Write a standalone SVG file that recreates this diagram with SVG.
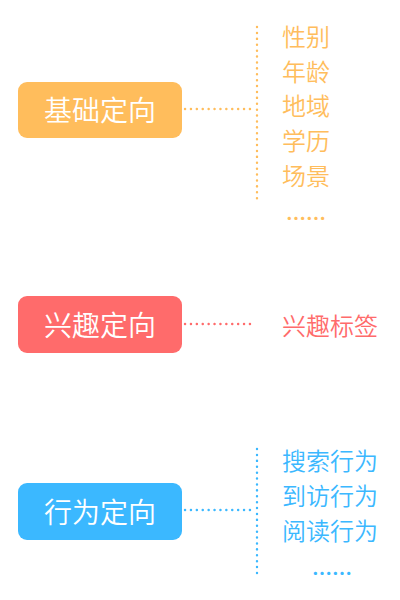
<svg xmlns="http://www.w3.org/2000/svg" width="400" height="600" viewBox="0 0 400 600">
<style>
.box-label{font-family:"Noto Sans CJK SC","Noto Sans",sans-serif;font-size:28px;font-weight:350;fill:#ffffff;text-anchor:middle;dominant-baseline:central}
.item{font-family:"Noto Sans CJK SC","Noto Sans",sans-serif;font-size:24px;font-weight:350;dominant-baseline:central}
.dots{font-family:"Noto Sans CJK SC","Noto Sans",sans-serif;font-size:20px;font-weight:700;text-anchor:middle}
.conn{fill:none;stroke-width:2.4;stroke-linecap:round;stroke-dasharray:0.1 5.8}
</style>
<rect width="400" height="600" fill="#ffffff"/>
<g id="connectors">
<line class="conn" x1="185" y1="109" x2="251" y2="109" stroke="#FFBD5C"/>
<line class="conn" x1="257" y1="27" x2="257" y2="202" stroke="#FFBD5C"/>
<line class="conn" x1="185" y1="324" x2="252" y2="324" stroke="#FF6B6B"/>
<line class="conn" x1="185" y1="510" x2="252" y2="510" stroke="#3BB8FF"/>
<line class="conn" x1="257" y1="449" x2="257" y2="577" stroke="#3BB8FF"/>
</g>
<g id="node-basic">
<rect x="18" y="82" width="164" height="56" rx="9" fill="#FFBD5C"/>
<text class="box-label" x="100" y="109">基础定向</text>
</g>
<g id="node-basic-items" fill="#FFBD5C">
<text class="item" x="282" y="35">性别</text>
<text class="item" x="282" y="70">年龄</text>
<text class="item" x="282" y="104">地域</text>
<text class="item" x="282" y="139">学历</text>
<text class="item" x="282" y="174">场景</text>
<text class="dots" x="306" y="226">……</text>
</g>
<g id="node-interest">
<rect x="18" y="296" width="164" height="57" rx="9" fill="#FF6B6B"/>
<text class="box-label" x="100" y="324">兴趣定向</text>
</g>
<g id="node-interest-items" fill="#FF6B6B">
<text class="item" x="282" y="324">兴趣标签</text>
</g>
<g id="node-behavior">
<rect x="18" y="483" width="164" height="57" rx="9" fill="#3BB8FF"/>
<text class="box-label" x="100" y="511">行为定向</text>
</g>
<g id="node-behavior-items" fill="#3BB8FF">
<text class="item" x="282" y="459">搜索行为</text>
<text class="item" x="282" y="494">到访行为</text>
<text class="item" x="282" y="529">阅读行为</text>
<text class="dots" x="332" y="581">……</text>
</g>
</svg>
